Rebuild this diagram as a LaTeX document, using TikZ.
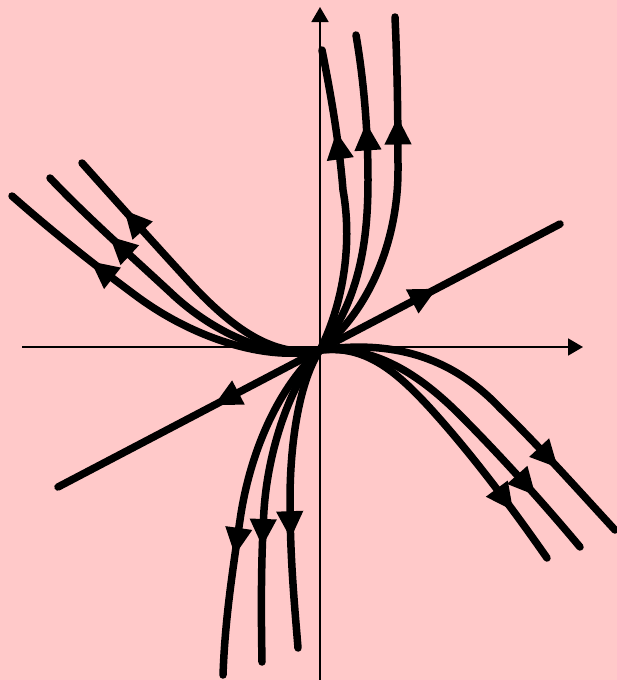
\documentclass[tikz,border=0pt]{standalone}
\usetikzlibrary{arrows.meta,decorations.markings}
\definecolor{bgpink}{RGB}{255,201,201}
\begin{document}
\begin{tikzpicture}[x=1pt,y=-1pt,
  traj/.style={line width=7.5pt, line cap=round, line join=round},
  axisline/.style={line width=1.8pt, -{Triangle[length=15pt,width=17pt]}},
  arrat/.style={postaction={decorate, decoration={markings, mark=at position #1 with {\arrow{Triangle[length=28pt,width=25pt]}}}}},
  arrback/.style={postaction={decorate, decoration={markings, mark=at position #1 with {\arrowreversed{Triangle[length=28pt,width=25pt]}}}}}]
\fill[bgpink] (0,0) rectangle (617,680);
\useasboundingbox (0,0) rectangle (617,680);
\coordinate (O) at (320,350);
% axes
\coordinate (xl) at (22,347);
\coordinate (xr) at (583,347);
\coordinate (yb) at (320,680);
\coordinate (yt) at (320,7);
\draw[axisline] (xl) -- (xr);
\draw[axisline] (yb) -- (yt);
% straight eigen-line
\coordinate (s1) at (58,487);
\coordinate (s2) at (560,224);
\draw[traj, arrat=0.755, arrback=0.31] (s1) -- (s2);
% upper curves
\draw[traj, arrat=0.73] (O) .. controls (345,300) and (352,240) .. (343,190) .. controls (339,140) and (330,90) .. (322,50);
\draw[traj, arrat=0.73] (O) .. controls (360,300) and (368,240) .. (368,180) .. controls (368,120) and (362,70) .. (356,35);
\draw[traj, arrat=0.72] (O) .. controls (370,310) and (398,240) .. (398,170) .. controls (398,110) and (397,60) .. (395,17);
% lower curves
\draw[traj, arrat=0.64] (O) .. controls (300,380) and (290,440) .. (290,500) .. controls (290,560) and (295,610) .. (298,648);
\draw[traj, arrat=0.645] (O) .. controls (290,385) and (268,450) .. (264,510) .. controls (261,560) and (261,610) .. (262,662);
\draw[traj, arrat=0.655] (O) .. controls (280,385) and (250,450) .. (240,520) .. controls (232,575) and (225,620) .. (223,675);
% upper-left curves
\draw[traj, arrat=0.714] (O) .. controls (270,362) and (195,340) .. (135,295) .. controls (85,258) and (45,225) .. (12,196);
\draw[traj, arrat=0.75] (O) .. controls (275,360) and (215,335) .. (170,292) .. controls (130,255) and (85,215) .. (50,178);
\draw[traj, arrat=0.80] (O) .. controls (275,358) and (235,330) .. (195,288) .. controls (160,250) and (115,200) .. (82,163);
% lower-right curves
\draw[traj, arrat=0.82] (O) .. controls (365,345) and (395,370) .. (430,408) .. controls (470,452) and (510,505) .. (547,558);
\draw[traj, arrat=0.80] (O) .. controls (375,345) and (420,375) .. (460,415) .. controls (500,455) and (545,505) .. (580,547);
\draw[traj, arrat=0.77] (O) .. controls (390,340) and (450,355) .. (500,408) .. controls (540,447) and (580,492) .. (615,530);
\end{tikzpicture}
\end{document}
